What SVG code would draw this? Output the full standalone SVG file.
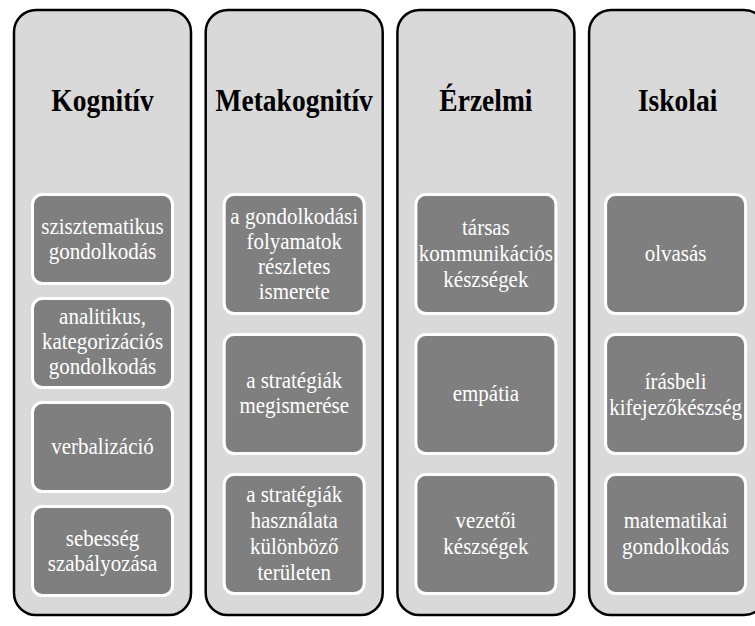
<svg xmlns="http://www.w3.org/2000/svg" width="755" height="626" viewBox="0 0 755 626">
  <style>
    .col { fill: #d9d9d9; stroke: #000; stroke-width: 2.5; }
    .item { fill: #7f7f7f; stroke: #fff; stroke-width: 3; }
    .hd { font-family: 'Liberation Serif', 'DejaVu Serif', serif; font-weight: bold; font-size: 27.5px; fill: #000; text-anchor: middle; }
    .tx { font-family: 'Liberation Serif', 'DejaVu Serif', serif; font-size: 21px; fill: #fff; text-anchor: middle; }
  </style>
  <rect width="755" height="626" fill="#fff"/>

  <!-- Column: Kognitív -->
  <g id="col-kognitiv">
    <rect class="col" x="14" y="10" width="177" height="605" rx="22"/>
    <text class="hd" transform="translate(102.5,111) scale(1,1.18)">Kognitív</text>
  </g>
  <g id="k1">
    <rect class="item" x="32.5" y="194.5" width="140" height="89" rx="10"/>
    <text class="tx" transform="translate(102.5,233.5) scale(1,1.08)">szisztematikus</text>
    <text class="tx" transform="translate(102.5,258.5) scale(1,1.08)">gondolkodás</text>
  </g>
  <g id="k2">
    <rect class="item" x="32.5" y="298.5" width="140" height="89" rx="10"/>
    <text class="tx" transform="translate(102.5,324) scale(1,1.08)">analitikus,</text>
    <text class="tx" transform="translate(102.5,349) scale(1,1.08)">kategorizációs</text>
    <text class="tx" transform="translate(102.5,374) scale(1,1.08)">gondolkodás</text>
  </g>
  <g id="k3">
    <rect class="item" x="32.5" y="402.5" width="140" height="89" rx="10"/>
    <text class="tx" transform="translate(102.5,454) scale(1,1.08)">verbalizáció</text>
  </g>
  <g id="k4">
    <rect class="item" x="32.5" y="506.5" width="140" height="89" rx="10"/>
    <text class="tx" transform="translate(102.5,545.5) scale(1,1.08)">sebesség</text>
    <text class="tx" transform="translate(102.5,570.5) scale(1,1.08)">szabályozása</text>
  </g>

  <!-- Column: Metakognitív -->
  <g id="col-metakognitiv">
    <rect class="col" x="205.7" y="10" width="177" height="605" rx="22"/>
    <text class="hd" transform="translate(294.2,111) scale(1,1.18)">Metakognitív</text>
  </g>
  <g id="m1">
    <rect class="item" x="224.2" y="194.5" width="140" height="119" rx="10"/>
    <text class="tx" transform="translate(294.2,223.5) scale(1,1.08)">a gondolkodási</text>
    <text class="tx" transform="translate(294.2,248.5) scale(1,1.08)">folyamatok</text>
    <text class="tx" transform="translate(294.2,273.5) scale(1,1.08)">részletes</text>
    <text class="tx" transform="translate(294.2,298.5) scale(1,1.08)">ismerete</text>
  </g>
  <g id="m2">
    <rect class="item" x="224.2" y="334.5" width="140" height="119" rx="10"/>
    <text class="tx" transform="translate(294.2,388) scale(1,1.08)">a stratégiák</text>
    <text class="tx" transform="translate(294.2,413) scale(1,1.08)">megismerése</text>
  </g>
  <g id="m3">
    <rect class="item" x="224.2" y="474.5" width="140" height="119" rx="10"/>
    <text class="tx" transform="translate(294.2,502) scale(1,1.08)">a stratégiák</text>
    <text class="tx" transform="translate(294.2,528) scale(1,1.08)">használata</text>
    <text class="tx" transform="translate(294.2,554) scale(1,1.08)">különböző</text>
    <text class="tx" transform="translate(294.2,580) scale(1,1.08)">területen</text>
  </g>

  <!-- Column: Érzelmi -->
  <g id="col-erzelmi">
    <rect class="col" x="397.4" y="10" width="177" height="605" rx="22"/>
    <text class="hd" transform="translate(485.9,111) scale(1,1.18)">Érzelmi</text>
  </g>
  <g id="e1">
    <rect class="item" x="415.9" y="194.5" width="140" height="119" rx="10"/>
    <text class="tx" transform="translate(485.9,235) scale(1,1.08)">társas</text>
    <text class="tx" transform="translate(485.9,261) scale(1,1.08)">kommunikációs</text>
    <text class="tx" transform="translate(485.9,287) scale(1,1.08)">készségek</text>
  </g>
  <g id="e2">
    <rect class="item" x="415.9" y="334.5" width="140" height="119" rx="10"/>
    <text class="tx" transform="translate(485.9,401) scale(1,1.08)">empátia</text>
  </g>
  <g id="e3">
    <rect class="item" x="415.9" y="474.5" width="140" height="119" rx="10"/>
    <text class="tx" transform="translate(485.9,528) scale(1,1.08)">vezetői</text>
    <text class="tx" transform="translate(485.9,554) scale(1,1.08)">készségek</text>
  </g>

  <!-- Column: Iskolai -->
  <g id="col-iskolai">
    <rect class="col" x="589.1" y="10" width="177" height="605" rx="22"/>
    <text class="hd" transform="translate(677.6,111) scale(1,1.18)">Iskolai</text>
  </g>
  <g id="i1">
    <rect class="item" x="605.6" y="194.5" width="140" height="119" rx="10"/>
    <text class="tx" transform="translate(675.6,261) scale(1,1.08)">olvasás</text>
  </g>
  <g id="i2">
    <rect class="item" x="605.6" y="334.5" width="140" height="119" rx="10"/>
    <text class="tx" transform="translate(675.6,389) scale(1,1.08)">írásbeli</text>
    <text class="tx" transform="translate(675.6,415) scale(1,1.08)">kifejezőkészség</text>
  </g>
  <g id="i3">
    <rect class="item" x="605.6" y="474.5" width="140" height="119" rx="10"/>
    <text class="tx" transform="translate(675.6,528) scale(1,1.08)">matematikai</text>
    <text class="tx" transform="translate(675.6,554) scale(1,1.08)">gondolkodás</text>
  </g>

  <!-- no connectors in this diagram -->
  <g id="connectors"/>
</svg>
